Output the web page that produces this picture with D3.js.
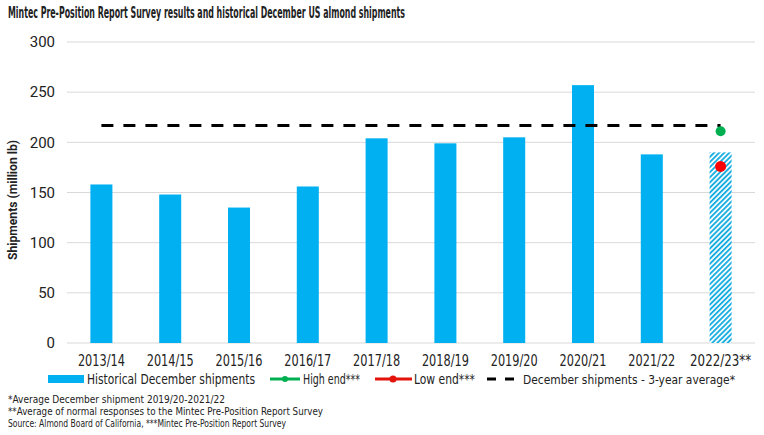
<!DOCTYPE html>
<html><head><meta charset="utf-8">
<script src="https://cdn.jsdelivr.net/npm/d3@7"></script>
<style>
body{margin:0;background:#fff;}
text{font-family:"DejaVu Sans Condensed","DejaVu Sans",sans-serif;font-stretch:condensed;fill:#222;}
</style></head><body>
<svg id="c" width="764" height="435"></svg>
<script>
const categories = ["2013/14","2014/15","2015/16","2016/17","2017/18","2018/19","2019/20","2020/21","2021/22","2022/23**"];
const shipments = [158,148,135,156,204,199,205,257,188,190];
const highEnd = 211;
const lowEnd = 176;
const avg3yr = 216.7;
const yTicks = [0,50,100,150,200,250,300];

const svg = d3.select("#c");
const m = {l:67, r:9, t:42, b:92};
const W = 764, H = 435;
const x = d3.scaleBand().domain(categories).range([m.l, W-m.r]).paddingInner(0.68).paddingOuter(0.34);
const y = d3.scaleLinear().domain([0,300]).range([343,42]);

function fit(sel, w){ sel.attr("textLength", w).attr("lengthAdjust","spacingAndGlyphs"); return sel; }

const defs = svg.append("defs");
const pat = defs.append("pattern").attr("id","hatch").attr("patternUnits","userSpaceOnUse")
  .attr("width",3.6).attr("height",3.6).attr("patternTransform","rotate(45)");
pat.append("rect").attr("width",3.6).attr("height",3.6).attr("fill","#fff");
pat.append("rect").attr("width",1.9).attr("height",3.6).attr("fill","#1aaee0");

// gridlines
svg.append("g").selectAll("line").data(yTicks).join("line")
  .attr("x1",m.l).attr("x2",W-m.r).attr("y1",d=>y(d)).attr("y2",d=>y(d))
  .attr("stroke","#d9d9d9").attr("stroke-width",1);

// y labels
svg.append("g").selectAll("text").data(yTicks).join("text")
  .attr("x",55).attr("y",d=>y(d)).attr("dy","0.35em").attr("text-anchor","end")
  .style("font-family","Roboto, sans-serif").style("font-stretch","normal").style("font-size","15px").attr("fill","#333").text(d=>d);

// bars
svg.append("g").selectAll("rect").data(categories).join("rect")
  .attr("x",d=>x(d)).attr("width",x.bandwidth())
  .attr("y",(d,i)=>y(shipments[i])).attr("height",(d,i)=>y(0)-y(shipments[i]))
  .attr("fill",(d,i)=> i===categories.length-1 ? "url(#hatch)" : "#00b0f0");

// avg dashed line
svg.append("line")
  .attr("x1",x(categories[0])+x.bandwidth()/2).attr("x2",x(categories[categories.length-1])+x.bandwidth()/2)
  .attr("y1",y(avg3yr)).attr("y2",y(avg3yr))
  .attr("stroke","#000").attr("stroke-width",3).attr("stroke-dasharray","12,10");

// dots
const lastC = x(categories[categories.length-1])+x.bandwidth()/2;
svg.append("circle").attr("cx",lastC).attr("cy",y(highEnd)).attr("r",5).attr("fill","#00b050");
svg.append("circle").attr("cx",lastC).attr("cy",y(lowEnd)).attr("r",5.5).attr("fill","#ff0000");

// x labels
svg.append("g").selectAll("text").data(categories).join("text")
  .attr("x",d=>x(d)+x.bandwidth()/2).attr("y",361).attr("dy","0.35em").attr("text-anchor","middle")
  .style("font-size","15px").attr("fill","#333").text(d=>d)
  .attr("textLength",(d,i)=> i===categories.length-1 ? 61 : 47).attr("lengthAdjust","spacingAndGlyphs");

// title
fit(svg.append("text").attr("x",8).attr("y",18).style("font-size","16px").style("font-weight","bold")
  .attr("fill","#1a1a2a").text("Mintec Pre-Position Report Survey results and historical December US almond shipments"), 397);

// y axis title
fit(svg.append("text").attr("transform","translate(17,200) rotate(-90)").attr("text-anchor","middle")
  .style("font-family","Roboto, sans-serif").style("font-stretch","normal").style("font-size","12.5px").style("font-weight","bold")
  .attr("fill","#333").text("Shipments (million lb)"), 120);

// legend
const ly = 379;
const lg = svg.append("g");
lg.append("rect").attr("x",48).attr("y",ly-4).attr("width",36).attr("height",8).attr("fill","#00b0f0");
fit(lg.append("text").attr("x",87).attr("y",ly).attr("dy","0.35em").style("font-size","14px").attr("fill","#333").text("Historical December shipments"),168);
lg.append("line").attr("x1",270).attr("x2",300).attr("y1",ly).attr("y2",ly).attr("stroke","#00b050").attr("stroke-width",3);
lg.append("circle").attr("cx",285).attr("cy",ly).attr("r",3).attr("fill","#00b050");
fit(lg.append("text").attr("x",303).attr("y",ly).attr("dy","0.35em").style("font-size","14px").attr("fill","#333").text("High end***"),57);
lg.append("line").attr("x1",375).attr("x2",412).attr("y1",ly).attr("y2",ly).attr("stroke","#e3120b").attr("stroke-width",3);
lg.append("circle").attr("cx",393).attr("cy",ly).attr("r",3.5).attr("fill","#e3120b");
fit(lg.append("text").attr("x",414).attr("y",ly).attr("dy","0.35em").style("font-size","14px").attr("fill","#333").text("Low end***"),61);
lg.append("line").attr("x1",487).attr("x2",516).attr("y1",ly).attr("y2",ly).attr("stroke","#000").attr("stroke-width",3).attr("stroke-dasharray","9,9");
fit(lg.append("text").attr("x",523).attr("y",ly).attr("dy","0.35em").style("font-size","13px").attr("fill","#333").text("December shipments - 3-year average*"),212);

// footnotes
const notes = ["*Average December shipment 2019/20-2021/22","**Average of normal responses to the Mintec Pre-Position Report Survey","Source: Almond Board of California, ***Mintec Pre-Position Report Survey"];
const noteW = [217,315,278];
svg.append("g").selectAll("text").data(notes).join("text")
  .attr("x",8).attr("y",(d,i)=>[403,415,427][i]).style("font-size","10.5px").attr("fill","#222").text(d=>d)
  .attr("textLength",(d,i)=>noteW[i]).attr("lengthAdjust","spacingAndGlyphs");
</script></body></html>
